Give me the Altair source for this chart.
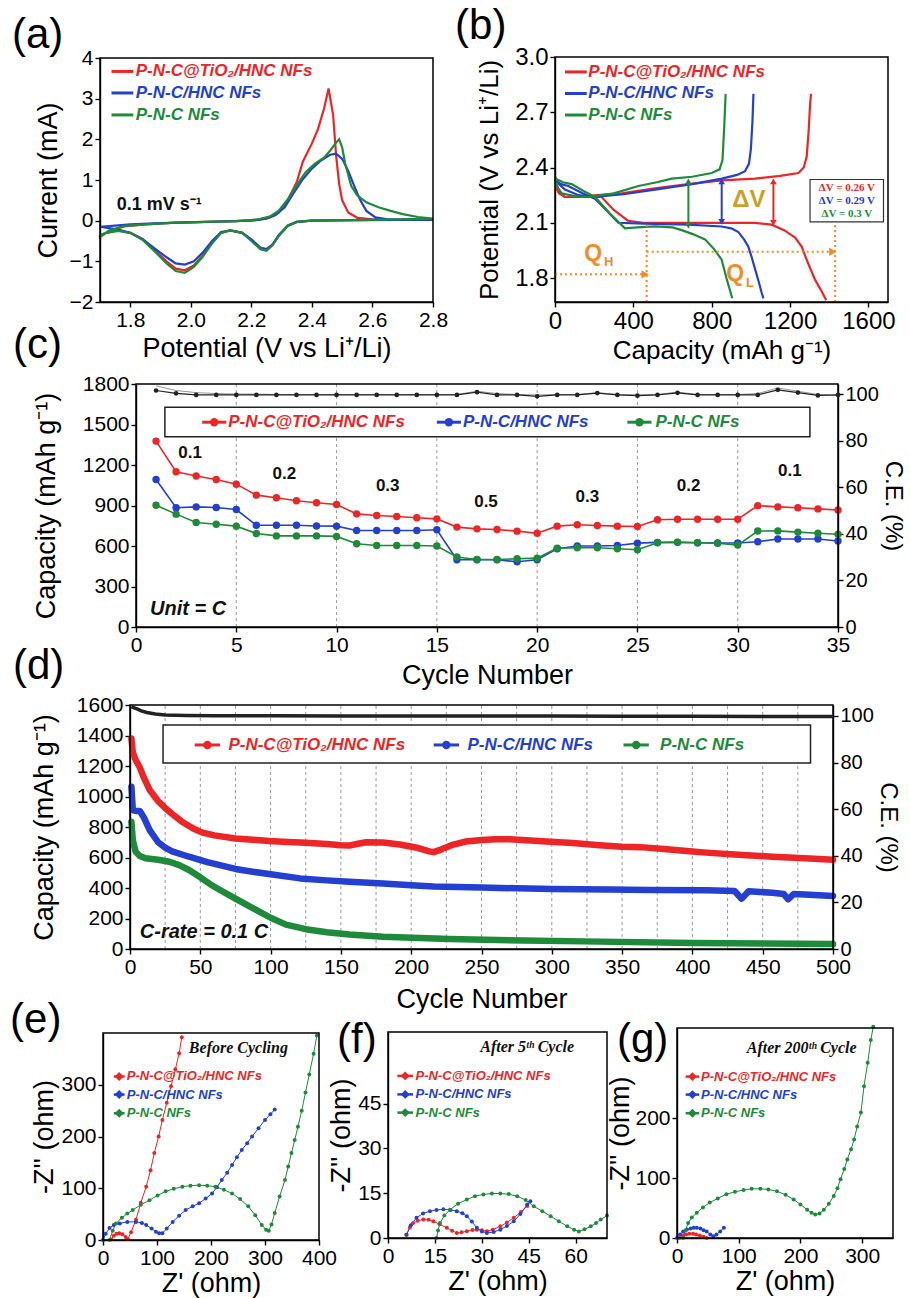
import altair as alt
import pandas as pd

FONT = "Liberation Sans"
SERIF = "Liberation Serif"
RED, BLUE, GREEN = "#ee2526", "#2340d3", "#1e8b3a"
ORANGE = "#f28c28"
GOLD = "#c9a227"
NAMES = ["P-N-C@TiO₂/HNC NFs", "P-N-C/HNC NFs", "P-N-C NFs"]

# ---------------- (a) cyclic voltammetry ----------------
cv_red_v = [2.80, 2.70, 2.60, 2.50, 2.40, 2.35, 2.32, 2.29, 2.27, 2.25, 2.23, 2.20, 2.17, 2.13, 2.10, 2.07, 2.04, 2.01, 1.98, 1.95, 1.92, 1.88, 1.84, 1.80, 1.76, 1.72, 1.70,
            1.70, 1.73, 1.78, 1.85, 1.95, 2.05, 2.15, 2.22, 2.26, 2.29, 2.32, 2.35, 2.37, 2.40, 2.42, 2.44, 2.455, 2.47, 2.48, 2.49, 2.50, 2.52, 2.55, 2.60, 2.70, 2.80]
cv_red_i = [0.02, 0.02, 0.01, 0.01, 0.0, -0.03, -0.13, -0.38, -0.6, -0.72, -0.68, -0.48, -0.3, -0.24, -0.3, -0.55, -0.85, -1.1, -1.22, -1.18, -1.0, -0.72, -0.45, -0.3, -0.24, -0.3, -0.36,
            -0.4, -0.25, -0.14, -0.09, -0.05, -0.03, -0.01, 0.02, 0.08, 0.2, 0.5, 0.95, 1.45, 1.9, 2.25, 2.75, 3.25, 2.6, 1.6, 0.9, 0.5, 0.2, 0.07, 0.03, 0.02, 0.02]
cv_blue_v = [2.80, 2.60, 2.40, 2.35, 2.32, 2.29, 2.27, 2.25, 2.23, 2.20, 2.17, 2.13, 2.10, 2.07, 2.04, 2.01, 1.98, 1.95, 1.92, 1.88, 1.84, 1.80, 1.76, 1.72, 1.70,
             1.70, 1.75, 1.80, 1.90, 2.00, 2.10, 2.20, 2.25, 2.28, 2.31, 2.34, 2.37, 2.40, 2.43, 2.46, 2.48, 2.50, 2.52, 2.54, 2.56, 2.58, 2.61, 2.65, 2.80]
cv_blue_i = [0.02, 0.02, 0.0, -0.03, -0.12, -0.36, -0.58, -0.7, -0.66, -0.46, -0.3, -0.24, -0.28, -0.5, -0.78, -1.0, -1.08, -1.05, -0.9, -0.68, -0.45, -0.3, -0.22, -0.17, -0.15,
             -0.15, -0.12, -0.09, -0.06, -0.04, -0.02, 0.0, 0.05, 0.14, 0.33, 0.68, 1.02, 1.28, 1.48, 1.62, 1.65, 1.52, 1.22, 0.85, 0.5, 0.24, 0.08, 0.03, 0.02]
cv_green_v = [2.80, 2.60, 2.40, 2.35, 2.32, 2.29, 2.27, 2.25, 2.23, 2.20, 2.17, 2.13, 2.10, 2.07, 2.04, 2.01, 1.98, 1.95, 1.92, 1.88, 1.84, 1.80, 1.76, 1.72, 1.70,
              1.70, 1.73, 1.78, 1.85, 1.95, 2.05, 2.15, 2.22, 2.26, 2.29, 2.32, 2.35, 2.38, 2.41, 2.44, 2.46, 2.48, 2.49, 2.50, 2.51, 2.53, 2.55, 2.58, 2.62, 2.66, 2.70, 2.75, 2.80]
cv_green_i = [0.05, 0.02, 0.0, -0.03, -0.13, -0.38, -0.6, -0.74, -0.7, -0.5, -0.3, -0.24, -0.3, -0.56, -0.88, -1.14, -1.28, -1.24, -1.05, -0.75, -0.47, -0.3, -0.25, -0.3, -0.36,
              -0.4, -0.25, -0.13, -0.09, -0.05, -0.03, -0.01, 0.03, 0.1, 0.24, 0.52, 0.88, 1.2, 1.4, 1.55, 1.72, 1.92, 2.0, 1.8, 1.4, 0.85, 0.62, 0.45, 0.33, 0.24, 0.16, 0.09, 0.05]

# ---------------- (b) charge / discharge ----------------
b_red_dis_x = [0, 20, 50, 150, 238, 300, 374, 450, 550, 681, 850, 1021, 1106, 1170, 1226, 1260, 1277, 1300, 1328, 1355, 1385]
b_red_dis_y = [2.33, 2.27, 2.24, 2.24, 2.24, 2.17, 2.11, 2.10, 2.10, 2.10, 2.10, 2.10, 2.09, 2.06, 2.02, 1.97, 1.92, 1.86, 1.79, 1.74, 1.68]
b_red_chg_x = [0, 20, 50, 150, 340, 500, 681, 850, 1021, 1150, 1243, 1270, 1285, 1295, 1302, 1307]
b_red_chg_y = [2.30, 2.26, 2.24, 2.245, 2.26, 2.285, 2.31, 2.33, 2.34, 2.355, 2.37, 2.40, 2.46, 2.60, 2.74, 2.80]
b_blue_dis_x = [0, 30, 68, 140, 204, 270, 323, 450, 681, 851, 900, 936, 965, 987, 1005, 1021, 1040, 1055, 1064]
b_blue_dis_y = [2.33, 2.31, 2.30, 2.26, 2.23, 2.16, 2.10, 2.095, 2.09, 2.08, 2.07, 2.05, 2.01, 1.97, 1.91, 1.85, 1.78, 1.72, 1.69]
b_blue_chg_x = [0, 20, 51, 120, 204, 350, 511, 700, 851, 930, 970, 990, 1000, 1008, 1013]
b_blue_chg_y = [2.35, 2.31, 2.28, 2.25, 2.24, 2.255, 2.28, 2.31, 2.34, 2.36, 2.38, 2.42, 2.50, 2.65, 2.80]
b_green_dis_x = [0, 40, 85, 150, 204, 280, 357, 420, 511, 600, 647, 700, 766, 810, 851, 875, 905]
b_green_dis_y = [2.34, 2.32, 2.31, 2.27, 2.24, 2.15, 2.07, 2.075, 2.08, 2.075, 2.06, 2.04, 2.01, 1.96, 1.90, 1.80, 1.69]
b_green_chg_x = [0, 15, 34, 100, 170, 300, 426, 520, 596, 700, 800, 840, 855, 863, 868, 871]
b_green_chg_y = [2.33, 2.29, 2.26, 2.245, 2.24, 2.26, 2.30, 2.32, 2.34, 2.35, 2.37, 2.39, 2.44, 2.60, 2.72, 2.80]
b_dv_text = ["ΔV = 0.26 V", "ΔV = 0.29 V", "ΔV = 0.3 V"]
b_dv_cap = [1115, 851, 681]          # double-arrow positions (red, blue, green)
b_dv_low = [2.10, 2.105, 2.085]
b_dv_high = [2.325, 2.325, 2.325]
b_qh_cap = 468
b_ql_cap = 1430

# ---------------- (c) rate capability ----------------
cycles_c = list(range(1, 36))
cap_red_c = [1377, 1150, 1118, 1093, 1058, 977, 957, 935, 920, 907, 838, 826, 819, 809, 801, 740, 727, 722, 710, 695,
             747, 757, 752, 747, 745, 795, 798, 798, 798, 798, 899, 890, 883, 875, 867]
cap_blue_c = [1093, 883, 890, 885, 870, 754, 754, 754, 748, 747, 715, 715, 715, 715, 720, 498, 498, 498, 483, 498,
              580, 600, 600, 604, 621, 627, 627, 624, 622, 622, 632, 652, 652, 652, 637]
cap_green_c = [902, 836, 774, 761, 747, 692, 675, 675, 675, 671, 617, 604, 604, 604, 600, 518, 500, 500, 505, 510,
               584, 587, 587, 580, 572, 624, 629, 624, 620, 607, 711, 712, 703, 695, 687]
ce_c = [101.5, 100.3, 99.6, 99.6, 99.6, 99.6, 99.6, 99.6, 99.6, 99.6, 99.6, 99.6, 99.6, 99.6, 99.6, 99.6, 100.8, 99.6, 99.6, 99.0,
        99.6, 99.6, 100.4, 99.6, 99.3, 99.6, 100.5, 99.6, 99.6, 99.6, 99.6, 101.8, 100.6, 99.4, 99.6]
ce_c_b = [103.5, 101.5, 100.6, 100.2, 100.0, 100.0, 99.8, 99.8, 99.8, 99.8, 99.8, 99.8, 99.8, 99.8, 99.8, 99.8, 101.2, 100.2, 99.8, 99.6,
          99.8, 99.8, 100.6, 99.8, 99.6, 99.8, 100.8, 99.8, 99.8, 99.8, 100.2, 102.6, 101.2, 99.8, 99.4]
rate_lbl = ["0.1", "0.2", "0.3", "0.5", "0.3", "0.2", "0.1"]
rate_x = [2.7, 7.4, 12.55, 17.45, 22.5, 27.55, 32.6]
rate_y = [1286, 1137, 1048, 925, 962, 1041, 1154]
grid_c = [5, 10, 15, 20, 25, 30]

# ---------------- (d) long-term cycling ----------------
red_d_x = [1, 2, 4, 7, 10, 14, 20, 25, 30, 37, 45, 51, 60, 75, 85, 99, 109, 125, 140, 150, 156, 162, 168, 180, 192, 205, 213, 216,
           222, 230, 239, 250, 260, 270, 285, 299, 315, 334, 350, 363, 380, 400, 410, 430, 457, 480, 500]
red_d_y = [1380, 1290, 1240, 1190, 1120, 1043, 970, 925, 885, 835, 790, 765, 745, 725, 718, 708, 703, 696, 688, 680, 678, 690, 700, 698,
           685, 662, 640, 635, 655, 685, 705, 715, 720, 720, 712, 704, 695, 680, 670, 668, 655, 640, 632, 620, 605, 595, 585]
blue_d_x = [1, 2, 4, 7, 10, 14, 20, 25, 30, 42, 55, 75, 85, 100, 121, 140, 156, 180, 200, 216, 250, 275, 300, 340, 370, 410,
            430, 435, 440, 457, 465, 468, 472, 480, 500]
blue_d_y = [1064, 911, 905, 905, 860, 780, 700, 665, 640, 605, 570, 525, 510, 490, 463, 450, 441, 430, 418, 410, 403, 398, 394, 390,
            387, 385, 380, 330, 378, 369, 360, 326, 360, 358, 348]
green_d_x = [1, 2, 4, 7, 11, 20, 28, 35, 42, 50, 57, 64, 75, 87, 100, 111, 125, 140, 156, 180, 227, 280, 322, 400, 450, 500]
green_d_y = [835, 715, 638, 610, 595, 585, 572, 550, 518, 470, 425, 387, 330, 270, 205, 160, 130, 110, 95, 80, 65, 55, 50, 40, 36, 32]
ce_d_x = [1, 3, 5, 8, 12, 18, 25, 40, 60, 100, 150, 200, 250, 300, 350, 400, 450, 500]
ce_d_y = [104, 103.5, 103, 102.2, 101.5, 100.8, 100.4, 100.2, 100.1, 100.1, 100, 100, 100, 100, 99.9, 99.9, 99.8, 99.8]
grid_d = list(range(25, 500, 25))

# ---------------- (e)(f)(g) Nyquist ----------------
red_e_x = [15, 20, 25, 30, 36, 42, 46, 52, 61, 70, 80, 88, 95, 103, 110, 118, 126, 134, 141, 146]
red_e_y = [1, 8, 12, 13, 11, 6, 2, 15, 39, 72, 103, 135, 168, 200, 232, 265, 297, 330, 361, 392]
blue_e_x = [0, 5, 12, 20, 31, 45, 61, 72, 80, 90, 98, 104, 110, 118, 129, 141, 153, 166, 178, 190, 202, 211, 220, 230, 239, 248,
            257, 267, 276, 288, 300, 310, 318]
blue_e_y = [0, 12, 23, 29, 32, 35, 35, 33, 29, 22, 16, 13, 13, 22, 35, 47, 58, 65, 71, 80, 90, 102, 116, 130, 145, 160, 174, 187,
            200, 216, 232, 243, 252]
green_e_x = [12, 18, 24, 35, 45, 55, 70, 86, 101, 116, 131, 147, 162, 178, 193, 208, 224, 239, 254, 269, 282, 294, 302, 307, 312,
             318, 327, 337, 343, 349, 355, 361, 368, 375, 382, 390, 396]
green_e_y = [0, 18, 32, 43, 51, 58, 68, 77, 86, 94, 99, 103, 105, 106, 105, 103, 97, 90, 79, 65, 48, 29, 20, 18, 30, 52, 84, 116,
             142, 168, 193, 219, 250, 285, 320, 360, 395]
red_f_x = [5.9, 7, 8, 9.5, 11.3, 13, 14.5, 16.5, 18.8, 20.5, 22, 23.5, 25.2, 27, 28.4, 30, 31.6, 33.5, 35.9, 38, 40.2, 42.5, 44.5]
red_f_y = [1.1, 3.5, 5, 5.8, 6.2, 6.1, 5.6, 4.6, 3.4, 2.4, 1.7, 1.9, 2.3, 2.7, 2.8, 2.6, 2.3, 2.8, 3.9, 5.2, 6.8, 8.7, 10.7]
blue_f_x = [5.9, 7.3, 9.1, 11.2, 13.4, 15.5, 17.7, 20, 22, 23.8, 25.2, 26.8, 28.4, 30, 31.6, 33.8, 35.9, 38, 40.2, 42.3, 44.5, 45.5]
blue_f_y = [1.1, 4.3, 6.8, 8.2, 9.0, 9.4, 9.6, 9.4, 9.0, 8.3, 7.3, 5.5, 3.4, 2.2, 1.7, 2.0, 2.8, 4.0, 5.6, 8.0, 11.2, 12.3]
green_f_x = [15.5, 16.0, 16.6, 18, 19.8, 22.4, 25.2, 27.8, 30.5, 33.2, 35.9, 38.6, 41.3, 44, 46.6, 49.3, 52, 54.6, 57.3, 59.5, 61,
             62.8, 64.8, 66.5, 68, 70]
green_f_y = [0, 2.5, 5, 7.5, 9.5, 11.5, 12.9, 14.0, 14.6, 14.9, 14.9, 14.7, 14.0, 12.7, 10.6, 9.0, 7.3, 5.6, 3.9, 2.8, 2.2, 2.9, 3.9,
             5.0, 6.2, 7.5]
red_g_x = [4, 10, 15, 20, 26, 31, 37, 43, 48]
red_g_y = [0, 4, 6, 7, 7, 6, 4, 2, 0]
blue_g_x = [0, 5, 10, 16, 22, 27, 32, 38, 43, 48, 54, 59, 64, 70, 76]
blue_g_y = [0, 6, 11, 14, 16, 17, 17, 16, 13, 11, 6, 3, 6, 11, 17]
green_g_x = [10, 14, 18, 24, 32, 42, 53, 66, 80, 94, 108, 121, 135, 148, 162, 176, 189, 200, 211, 218, 224, 231, 238, 246, 254,
             260, 265, 271, 276, 282, 287, 292, 298, 303, 309, 314, 318]
green_g_y = [0, 13, 25, 34, 42, 51, 59, 66, 73, 77, 80, 82, 82, 81, 78, 72, 64, 56, 47, 42, 39, 41, 47, 57, 70, 83, 98, 115, 131,
             148, 164, 186, 209, 253, 292, 330, 352]

# ======================================================
W, H = 910, 1298
# plot-area placement of every panel on the page (pixels): x range, y range (bottom, top)
GEOM = {
    "a": ((100, 433), (302, 58)),
    "b": ((555, 888), (302, 57)),
    "c": ((136, 838), (627, 384)),
    "d": ((130, 833), (949, 705)),
    "e": ((103, 319), (1240, 1033)),
    "f": ((388, 607), (1238, 1032)),
    "g": ((677, 893), (1238, 1028)),
}

CSCALE = alt.Scale(domain=NAMES, range=[RED, BLUE, GREEN])
COLOR = alt.Color("s:N", scale=CSCALE, legend=None)
LEGTXT = dict(align="left", baseline="middle", fontStyle="italic", fontWeight="bold")


class Panel:
    def __init__(self, key, xdom, ydom, xaxis, yaxis):
        (x0, x1), (y0, y1) = GEOM[key]
        self.xdom, self.ydom = xdom, ydom
        self.xs = alt.Scale(domain=xdom, range=[x0, x1], nice=False, zero=False)
        self.ys = alt.Scale(domain=ydom, range=[y0, y1], nice=False, zero=False)
        self.xa = alt.Axis(**xaxis, orient="bottom", offset=y0 - H)
        self.ya = alt.Axis(**yaxis, orient="left", offset=-x0)

    def X(self, f):
        return alt.X(f, type="quantitative", scale=self.xs, axis=self.xa)

    def Y(self, f):
        return alt.Y(f, type="quantitative", scale=self.ys, axis=self.ya)

    def frame(self):
        df = pd.DataFrame({"x0": [self.xdom[0]], "x1": [self.xdom[1]], "y0": [self.ydom[0]], "y1": [self.ydom[1]]})
        return alt.Chart(df).mark_rect(fill="transparent", stroke="black", strokeWidth=1.5).encode(
            x=self.X("x0"), x2="x1", y=self.Y("y0"), y2="y1")

    def letter(self, t, x, y):
        return alt.Chart(pd.DataFrame({"x": [x], "y": [y], "t": [t]})).mark_text(
            fontSize=42, align="left", baseline="bottom", color="black", font=FONT).encode(
            x=self.X("x"), y=self.Y("y"), text="t:N")


def axd(title, values, fmt=None, lsize=21, tsize=27, tpad=6):
    d = dict(title=title, values=values, labelFontSize=lsize, titleFontSize=tsize, titlePadding=tpad)
    if fmt is not None:
        d["format"] = fmt
    return d


def long_df(series):
    rows = []
    for name, curve, xs, ys in series:
        for k, (a, b) in enumerate(zip(xs, ys)):
            rows.append({"x": a, "y": b, "s": name, "c": curve, "o": k})
    return pd.DataFrame(rows)


# ---------------- panel (a) ----------------
PA = Panel("a", [1.7, 2.8], [-2, 4],
           axd("Potential (V vs Li⁺/Li)", [1.8, 2.0, 2.2, 2.4, 2.6, 2.8], ".1f", tpad=5),
           axd("Current (mA)", [-2, -1, 0, 1, 2, 3, 4], tpad=7))
cv_df = long_df([(NAMES[0], "r", cv_red_v, cv_red_i), (NAMES[1], "b", cv_blue_v, cv_blue_i),
                 (NAMES[2], "g", cv_green_v, cv_green_i)])
a_lines = alt.Chart(cv_df).mark_line(strokeWidth=2.2).encode(x=PA.X("x"), y=PA.Y("y"), color=COLOR, detail="c:N", order="o:Q")
a_leg = pd.DataFrame({"s": NAMES, "y": [3.67, 3.14, 2.6]}).assign(x0=1.738, x1=1.81, xt=1.818)
a_leg_r = alt.Chart(a_leg).mark_rule(strokeWidth=3).encode(x=PA.X("x0"), x2="x1", y=PA.Y("y"), color=COLOR)
a_leg_t = alt.Chart(a_leg).mark_text(fontSize=17, **LEGTXT).encode(x=PA.X("xt"), y=PA.Y("y"), text="s:N", color=COLOR)
a_note = alt.Chart(pd.DataFrame({"x": [1.755], "y": [0.39], "t": ["0.1 mV s⁻¹"]})).mark_text(
    align="left", baseline="middle", fontSize=18, fontWeight="bold", color="#111").encode(x=PA.X("x"), y=PA.Y("y"), text="t:N")
panel_a = alt.layer(a_lines, a_leg_r, a_leg_t, a_note, PA.frame(), PA.letter("(a)", 1.409, 4.02))

# ---------------- panel (b) ----------------
PB = Panel("b", [0, 1700], [1.67, 3.0],
           axd("Capacity (mAh g⁻¹)", [0, 400, 800, 1200, 1600], "d", lsize=24, tsize=26, tpad=4),
           axd("Potential (V vs Li⁺/Li)", [1.8, 2.1, 2.4, 2.7, 3.0], ".1f", lsize=24, tsize=26, tpad=12))
b_df = long_df([(NAMES[0], "rd", b_red_dis_x, b_red_dis_y), (NAMES[0], "rc", b_red_chg_x, b_red_chg_y),
                (NAMES[1], "bd", b_blue_dis_x, b_blue_dis_y), (NAMES[1], "bc", b_blue_chg_x, b_blue_chg_y),
                (NAMES[2], "gd", b_green_dis_x, b_green_dis_y), (NAMES[2], "gc", b_green_chg_x, b_green_chg_y)])
b_lines = alt.Chart(b_df).mark_line(strokeWidth=2.2).encode(x=PB.X("x"), y=PB.Y("y"), color=COLOR, detail="c:N", order="o:Q")
b_leg = pd.DataFrame({"s": NAMES, "y": [2.919, 2.802, 2.685]}).assign(x0=51, x1=162, xt=170)
b_leg_r = alt.Chart(b_leg).mark_rule(strokeWidth=3).encode(x=PB.X("x0"), x2="x1", y=PB.Y("y"), color=COLOR)
b_leg_t = alt.Chart(b_leg).mark_text(fontSize=17, **LEGTXT).encode(x=PB.X("xt"), y=PB.Y("y"), text="s:N", color=COLOR)
b_vlines = pd.DataFrame({"x": [b_qh_cap, b_ql_cap], "y0": [1.67, 1.67], "y1": [2.1, 2.1]})
b_vl = alt.Chart(b_vlines).mark_rule(color=ORANGE, strokeWidth=2, strokeDash=[2, 3]).encode(x=PB.X("x"), y=PB.Y("y0"), y2="y1")
b_hlines = pd.DataFrame({"x0": [0, b_qh_cap], "x1": [b_qh_cap - 8, b_ql_cap - 12], "y": [1.82, 1.943]})
b_hl = alt.Chart(b_hlines).mark_rule(color=ORANGE, strokeWidth=2, strokeDash=[2, 3]).encode(x=PB.X("x0"), x2="x1", y=PB.Y("y"))
b_heads = alt.Chart(b_hlines).mark_point(shape="triangle-right", filled=True, size=70, opacity=1, color=ORANGE).encode(
    x=PB.X("x1"), y=PB.Y("y"))
b_q = pd.DataFrame({"x": [195, 920], "y": [1.93, 1.82], "t": ["Q", "Q"]})
b_qt = alt.Chart(b_q).mark_text(fontSize=23, color=ORANGE, fontWeight="bold").encode(x=PB.X("x"), y=PB.Y("y"), text="t:N")
b_qs = pd.DataFrame({"x": [250, 975], "y": [1.885, 1.775], "t": ["H", "L"]})
b_qst = alt.Chart(b_qs).mark_text(fontSize=13, color=ORANGE, fontWeight="bold", align="left").encode(
    x=PB.X("x"), y=PB.Y("y"), text="t:N")
b_dv = pd.DataFrame({"s": NAMES, "x": b_dv_cap, "lo": b_dv_low, "hi": b_dv_high})
b_dvr = alt.Chart(b_dv).mark_rule(strokeWidth=2).encode(x=PB.X("x"), y=PB.Y("lo"), y2="hi", color=COLOR)
b_dvu = alt.Chart(b_dv).mark_point(shape="triangle-up", filled=True, size=45, opacity=1).encode(x=PB.X("x"), y=PB.Y("hi"), color=COLOR)
b_dvd = alt.Chart(b_dv).mark_point(shape="triangle-down", filled=True, size=45, opacity=1).encode(x=PB.X("x"), y=PB.Y("lo"), color=COLOR)
b_dvtxt = alt.Chart(pd.DataFrame({"x": [990], "y": [2.222], "t": ["ΔV"]})).mark_text(
    fontSize=24, fontWeight="bold", color=GOLD).encode(x=PB.X("x"), y=PB.Y("y"), text="t:N")
b_box = alt.Chart(pd.DataFrame({"x0": [1302], "x1": [1677], "y0": [2.105], "y1": [2.335]})).mark_rect(
    fill="white", stroke="#333", strokeWidth=1.2).encode(x=PB.X("x0"), x2="x1", y=PB.Y("y0"), y2="y1")
b_boxt = alt.Chart(pd.DataFrame({"s": NAMES, "t": b_dv_text, "y": [2.29, 2.22, 2.15]}).assign(x=1490)).mark_text(
    font=SERIF, fontSize=11, fontWeight="bold").encode(x=PB.X("x"), y=PB.Y("y"), text="t:N", color=COLOR)
panel_b = alt.layer(b_lines, b_leg_r, b_leg_t, b_vl, b_hl, b_heads, b_qt, b_qst, b_dvr, b_dvu, b_dvd, b_dvtxt,
                    b_box, b_boxt, PB.frame(), PB.letter("(b)", -510, 3.05))

# ---------------- panel (c) ----------------
PC = Panel("c", [0, 35], [0, 1800],
           axd("Cycle Number", list(range(0, 36, 5)), tpad=7),
           axd("Capacity (mAh g⁻¹)", list(range(0, 1801, 300)), "d", tpad=22))
(cx0, cx1), (cy0, cy1) = GEOM["c"]
YCR = alt.Y("y", type="quantitative", scale=alt.Scale(domain=[0, 104.3], range=[cy0, cy1], nice=False, zero=False),
            axis=alt.Axis(**axd("C.E. (%)", [0, 20, 40, 60, 80, 100], lsize=20, tsize=24, tpad=2), orient="right", offset=cx1 - W))
c_df = long_df([(NAMES[0], "r", cycles_c, cap_red_c), (NAMES[1], "b", cycles_c, cap_blue_c),
                (NAMES[2], "g", cycles_c, cap_green_c)])
c_grid = alt.Chart(pd.DataFrame({"g": grid_c}).assign(y0=0, y1=1800)).mark_rule(
    color="#9a9a9a", strokeDash=[3, 3], strokeWidth=1).encode(x=PC.X("g"), y=PC.Y("y0"), y2="y1")
c_lines = alt.Chart(c_df).mark_line(strokeWidth=1.6).encode(x=PC.X("x"), y=PC.Y("y"), color=COLOR, detail="c:N")
c_pts = alt.Chart(c_df).mark_circle(size=55, opacity=1).encode(x=PC.X("x"), y=PC.Y("y"), color=COLOR)
c_box = alt.Chart(pd.DataFrame({"x0": [1.44], "x1": [33.6], "y0": [1410], "y1": [1628]})).mark_rect(
    fill="white", stroke="#222", strokeWidth=1.5).encode(x=PC.X("x0"), x2="x1", y=PC.Y("y0"), y2="y1")
c_leg = pd.DataFrame({"s": NAMES, "xm": [3.9, 15.6, 25.1], "xt": [4.6, 16.3, 25.9]}).assign(y=1517)
c_leg["xa"] = c_leg["xm"] - 0.6
c_leg["xb"] = c_leg["xm"] + 0.6
c_leg_r = alt.Chart(c_leg).mark_rule(strokeWidth=3).encode(x=PC.X("xa"), x2="xb", y=PC.Y("y"), color=COLOR)
c_leg_p = alt.Chart(c_leg).mark_circle(size=70, opacity=1).encode(x=PC.X("xm"), y=PC.Y("y"), color=COLOR)
c_leg_t = alt.Chart(c_leg).mark_text(fontSize=17, **LEGTXT).encode(x=PC.X("xt"), y=PC.Y("y"), text="s:N", color=COLOR)
c_rates = alt.Chart(pd.DataFrame({"x": rate_x, "y": rate_y, "t": rate_lbl})).mark_text(
    fontSize=17, fontWeight="bold", color="#111").encode(x=PC.X("x"), y=PC.Y("y"), text="t:N")
c_unit = alt.Chart(pd.DataFrame({"x": [0.7], "y": [136], "t": ["Unit = C"]})).mark_text(
    fontSize=20, color="#111", **LEGTXT).encode(x=PC.X("x"), y=PC.Y("y"), text="t:N")
c_left = alt.layer(c_grid, c_lines, c_pts, c_box, c_leg_r, c_leg_p, c_leg_t, c_rates, c_unit, PC.frame(),
                   PC.letter("(c)", -6.13, 1926))
c_ce_b = alt.Chart(pd.DataFrame({"x": cycles_c, "y": ce_c_b})).mark_line(strokeWidth=1, color="#999").encode(x=PC.X("x"), y=YCR)
c_ce_l = alt.Chart(pd.DataFrame({"x": cycles_c, "y": ce_c})).mark_line(strokeWidth=1.2, color="#222").encode(x=PC.X("x"), y=YCR)
c_ce_p = alt.Chart(pd.DataFrame({"x": cycles_c, "y": ce_c})).mark_circle(size=22, opacity=1, color="#222").encode(x=PC.X("x"), y=YCR)
panel_c = alt.layer(c_left, alt.layer(c_ce_b, c_ce_l, c_ce_p)).resolve_scale(y="independent")

# ---------------- panel (d) ----------------
PD = Panel("d", [0, 500], [0, 1600],
           axd("Cycle Number", list(range(0, 501, 50)), tpad=9),
           axd("Capacity (mAh g⁻¹)", list(range(0, 1601, 200)), "d", tpad=18))
(dx0, dx1), (dy0, dy1) = GEOM["d"]
YDR = alt.Y("y", type="quantitative", scale=alt.Scale(domain=[0, 104.7], range=[dy0, dy1], nice=False, zero=False),
            axis=alt.Axis(**axd("C.E. (%)", [0, 20, 40, 60, 80, 100], lsize=20, tsize=24, tpad=2), orient="right", offset=dx1 - W))
d_df = long_df([(NAMES[0], "r", red_d_x, red_d_y), (NAMES[1], "b", blue_d_x, blue_d_y),
                (NAMES[2], "g", green_d_x, green_d_y)])
d_grid = alt.Chart(pd.DataFrame({"g": grid_d}).assign(y0=0, y1=1600)).mark_rule(
    color="#9a9a9a", strokeDash=[3, 3], strokeWidth=1).encode(x=PD.X("g"), y=PD.Y("y0"), y2="y1")
d_lines = alt.Chart(d_df).mark_line(strokeWidth=6.5, strokeCap="round", strokeJoin="round").encode(
    x=PD.X("x"), y=PD.Y("y"), color=COLOR, detail="c:N")
d_box = alt.Chart(pd.DataFrame({"x0": [23.5], "x1": [484], "y0": [1220], "y1": [1469]})).mark_rect(
    fill="white", stroke="#222", strokeWidth=1.5).encode(x=PD.X("x0"), x2="x1", y=PD.Y("y0"), y2="y1")
d_leg = pd.DataFrame({"s": NAMES, "xm": [55, 225, 360], "xt": [70, 240, 377]}).assign(y=1338)
d_leg["xa"] = d_leg["xm"] - 9
d_leg["xb"] = d_leg["xm"] + 9
d_leg_r = alt.Chart(d_leg).mark_rule(strokeWidth=3).encode(x=PD.X("xa"), x2="xb", y=PD.Y("y"), color=COLOR)
d_leg_p = alt.Chart(d_leg).mark_circle(size=70, opacity=1).encode(x=PD.X("xm"), y=PD.Y("y"), color=COLOR)
d_leg_t = alt.Chart(d_leg).mark_text(fontSize=17, **LEGTXT).encode(x=PD.X("xt"), y=PD.Y("y"), text="s:N", color=COLOR)
d_note = alt.Chart(pd.DataFrame({"x": [7], "y": [110], "t": ["C-rate = 0.1 C"]})).mark_text(
    fontSize=20, color="#111", **LEGTXT).encode(x=PD.X("x"), y=PD.Y("y"), text="t:N")
d_left = alt.layer(d_grid, d_lines, d_box, d_leg_r, d_leg_p, d_leg_t, d_note, PD.frame(), PD.letter("(d)", -83.2, 1711))
d_ce = alt.Chart(pd.DataFrame({"x": ce_d_x, "y": ce_d_y})).mark_line(strokeWidth=3.5, color="#222").encode(x=PD.X("x"), y=YDR)
panel_d = alt.layer(d_left, d_ce).resolve_scale(y="independent")


# ---------------- panels (e)(f)(g) ----------------
def nyquist(key, series, xdom, xvals, ydom, yvals, note, note_xy, leg_xm, leg_dx, leg_xt, leg_y, ltxt, lx, ly, ytpad):
    P = Panel(key, xdom, ydom, axd("Z' (ohm)", xvals, tpad=2), axd("-Z'' (ohm)", yvals, tpad=ytpad))
    df = long_df(series)
    ln = alt.Chart(df).mark_line(strokeWidth=1).encode(x=P.X("x"), y=P.Y("y"), color=COLOR, detail="c:N", order="o:Q")
    pt = alt.Chart(df).mark_circle(size=16, opacity=1).encode(x=P.X("x"), y=P.Y("y"), color=COLOR)
    lg = pd.DataFrame({"s": NAMES, "y": leg_y}).assign(xm=leg_xm, xt=leg_xt, xa=leg_xm - leg_dx, xb=leg_xm + leg_dx)
    lr = alt.Chart(lg).mark_rule(strokeWidth=2.5).encode(x=P.X("xa"), x2="xb", y=P.Y("y"), color=COLOR)
    lp = alt.Chart(lg).mark_point(shape="diamond", filled=True, size=80, opacity=1).encode(x=P.X("xm"), y=P.Y("y"), color=COLOR)
    lt = alt.Chart(lg).mark_text(fontSize=13, **LEGTXT).encode(x=P.X("xt"), y=P.Y("y"), text="s:N", color=COLOR)
    nt = alt.Chart(pd.DataFrame({"x": [note_xy[0]], "y": [note_xy[1]], "t": [note]})).mark_text(
        font=SERIF, fontSize=16, fontStyle="italic", fontWeight="bold", align="left", baseline="middle",
        color="#111").encode(x=P.X("x"), y=P.Y("y"), text="t:N")
    return alt.layer(ln, pt, lr, lp, lt, nt, P.frame(), P.letter(ltxt, lx, ly))


panel_e = nyquist("e", [(NAMES[0], "r", red_e_x, red_e_y), (NAMES[1], "b", blue_e_x, blue_e_y), (NAMES[2], "g", green_e_x, green_e_y)],
                  [0, 400], [0, 100, 200, 300, 400], [0, 400], [0, 100, 200, 300],
                  "Before Cycling", (159, 371), 30, 10, 44, [316, 281, 245], "(e)", -172, 382.6, 2)
panel_f = nyquist("f", [(NAMES[0], "r", red_f_x, red_f_y), (NAMES[1], "b", blue_f_x, blue_f_y), (NAMES[2], "g", green_f_x, green_f_y)],
                  [0, 70], [0, 15, 30, 45, 60], [0, 69], [0, 15, 30, 45],
                  "After 5ᵗʰ Cycle", (29.5, 64), 5.5, 2.5, 8.8, [54.3, 48.1, 42], "(f)", -16.3, 58.95, 2)
panel_g = nyquist("g", [(NAMES[0], "r", red_g_x, red_g_y), (NAMES[1], "b", blue_g_x, blue_g_y), (NAMES[2], "g", green_g_x, green_g_y)],
                  [0, 350], [0, 100, 200, 300], [0, 350], [0, 100, 200],
                  "After 200ᵗʰ Cycle", (113, 317), 25, 11, 39, [269, 239, 208], "(g)", -97.2, 293.3, 0)

chart = alt.layer(panel_a, panel_b, panel_c, panel_d, panel_e, panel_f, panel_g).resolve_scale(
    x="independent", y="independent"
).properties(
    width=W, height=H, autosize=alt.AutoSizeParams(type="none"), padding=0
).configure(font=FONT).configure_view(stroke="transparent").configure_axis(
    labelFlush=False, labelOverlap=False, grid=False, domainColor="black", domainWidth=1.4, tickColor="black", tickWidth=1.4,
    tickSize=5, labelColor="black", titleColor="black", labelFont=FONT, titleFont=FONT,
    titleFontWeight="normal", labelPadding=2
)

chart.save("out.html", embed_options={"renderer": "svg", "actions": False})
